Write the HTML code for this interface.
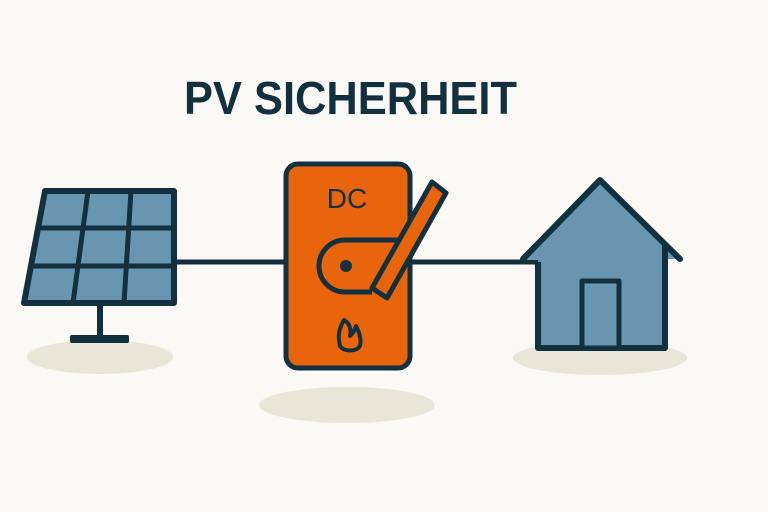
<!DOCTYPE html>
<html><head><style>html,body{margin:0;padding:0;background:#faf9f5;}svg{display:block}</style></head>
<body>
<svg width="768" height="512" viewBox="0 0 768 512" xmlns="http://www.w3.org/2000/svg">
<rect width="768" height="512" fill="#faf9f5"/>
<text x="184" y="114" font-family="Liberation Sans, sans-serif" font-weight="bold" font-size="46" fill="#13303e" textLength="333" lengthAdjust="spacingAndGlyphs">PV SICHERHEIT</text>
<!-- shadows -->
<ellipse cx="100" cy="357" rx="73" ry="17" fill="#e9e6d8"/>
<ellipse cx="347" cy="405" rx="88" ry="18" fill="#e9e6d8"/>
<ellipse cx="600" cy="358" rx="87" ry="17" fill="#e9e6d8"/>
<!-- wires -->
<line x1="172" y1="262" x2="290" y2="262" stroke="#13303e" stroke-width="5"/>
<line x1="405" y1="262" x2="540" y2="262" stroke="#13303e" stroke-width="5"/>
<!-- solar panel -->
<line x1="100" y1="303" x2="100" y2="338" stroke="#13303e" stroke-width="6"/>
<rect x="70" y="335" width="59" height="8" rx="2" fill="#13303e"/>
<polygon points="45,191 174,191 174,303 24,303" fill="#6896b0" stroke="#13303e" stroke-width="6" stroke-linejoin="round"/>
<line x1="38" y1="228" x2="174" y2="228" stroke="#13303e" stroke-width="5"/>
<line x1="31" y1="266" x2="174" y2="266" stroke="#13303e" stroke-width="5"/>
<line x1="88" y1="191" x2="73" y2="303" stroke="#13303e" stroke-width="5"/>
<line x1="131" y1="191" x2="124" y2="303" stroke="#13303e" stroke-width="5"/>
<!-- switch -->
<rect x="286" y="164" width="124" height="204" rx="12" fill="#e8650d" stroke="#13303e" stroke-width="5"/>
<text x="347" y="208" text-anchor="middle" font-family="Liberation Sans, sans-serif" font-size="28" fill="#13303e">DC</text>
<path d="M400,240 L345,240 A26,26 0 0 0 345,292 L372,292" fill="#e8650d" stroke="#13303e" stroke-width="5"/>
<circle cx="346" cy="266" r="6" fill="#13303e"/>
<polygon points="432,182 446,193 387,298 372,288" fill="#e8650d" stroke="#13303e" stroke-width="5" stroke-linejoin="round"/>
<path d="M344,320 C338,330 338,338 340,346 C344,352 356,352 360,346 C362,338 358,330 356,326 C354,332 352,334 350,336 C352,328 348,322 344,320 Z" fill="none" stroke="#13303e" stroke-width="4" stroke-linejoin="round"/>
<!-- house -->
<polygon points="526,259 600,182 677,259 665,259 665,348 538,348 538,259" fill="#6896b0"/>
<polyline points="538,262 538,348 665,348 665,245" fill="none" stroke="#13303e" stroke-width="6" stroke-linejoin="round"/>
<polyline points="523,259 600,180 680,259" fill="none" stroke="#13303e" stroke-width="6" stroke-linecap="round" stroke-linejoin="round"/>
<rect x="582" y="281" width="37" height="67" fill="#6896b0" stroke="#13303e" stroke-width="5" stroke-linejoin="round"/>
</svg>
</body></html>
